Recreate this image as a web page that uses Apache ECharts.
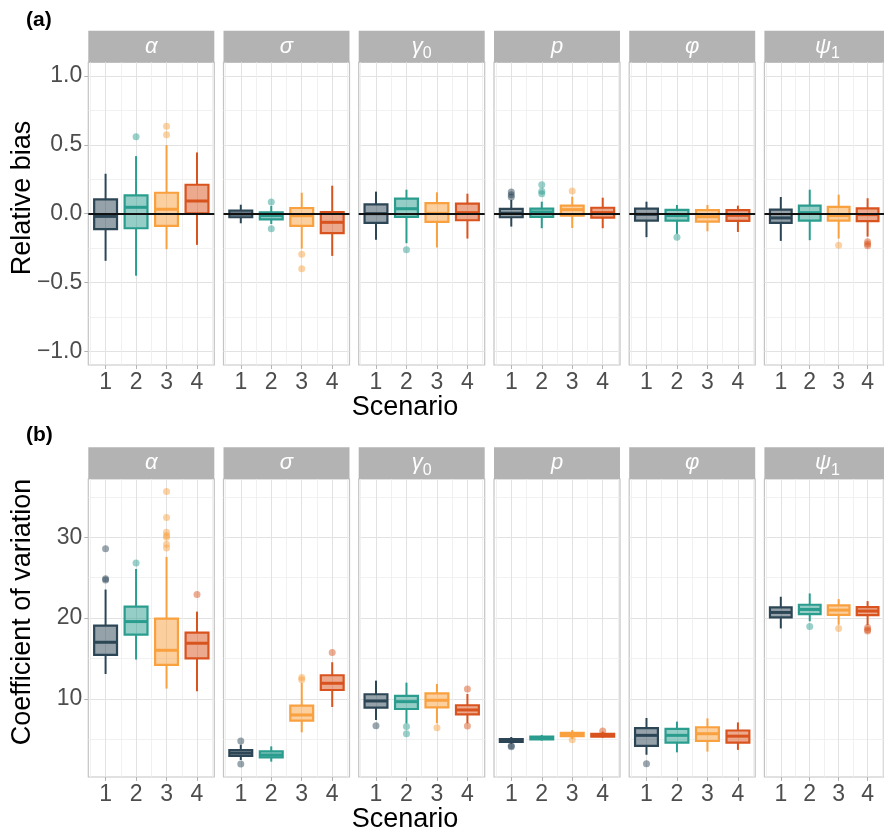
<!DOCTYPE html>
<html>
<head>
<meta charset="utf-8">
<script src="https://cdn.jsdelivr.net/npm/echarts@6/dist/echarts.min.js"></script>
<style>
  html, body {margin: 0; padding: 0; background: #fff;}
  #chart {width: 884px; height: 834px;}
</style>
</head>
<body>
<div id="chart"></div>
<script>
const scenarios = [1, 2, 3, 4]
const paramLabels = ['{g|α}', '{g|σ}', '{g|γ}{s|0}', '{g|p}', '{g|φ}', '{g|ψ}{s|1}']
const scenarioColors = ['#2c4656', '#2a9d8f', '#f9a03f', '#d9531e']

// (a) relative bias: [lower whisker, Q1, median, Q3, upper whisker] for scenario 1..4
const biasAlpha = [[-0.343, -0.113, -0.02, 0.104, 0.29], [-0.451, -0.106, 0.046, 0.133, 0.418], [-0.258, -0.089, 0.032, 0.152, 0.498], [-0.227, 0.003, 0.092, 0.21, 0.445]]
const biasSigma = [[-0.07, -0.026, -0.003, 0.022, 0.065], [-0.075, -0.041, -0.014, 0.01, 0.056], [-0.254, -0.089, -0.015, 0.041, 0.152], [-0.307, -0.142, -0.063, 0.012, 0.203]]
const biasGamma = [[-0.19, -0.067, 0.0, 0.068, 0.16], [-0.215, -0.024, 0.036, 0.109, 0.174], [-0.246, -0.06, 0.002, 0.077, 0.155], [-0.181, -0.048, 0.007, 0.073, 0.145]]
const biasP = [[-0.094, -0.026, 0.003, 0.034, 0.1], [-0.106, -0.024, 0.012, 0.036, 0.087], [-0.104, -0.014, 0.029, 0.058, 0.123], [-0.106, -0.029, 0.007, 0.043, 0.116]]
const biasPhi = [[-0.171, -0.051, -0.005, 0.036, 0.087], [-0.147, -0.051, -0.014, 0.027, 0.063], [-0.128, -0.058, -0.022, 0.025, 0.063], [-0.133, -0.053, -0.012, 0.025, 0.058]]
const biasPsi = [[-0.198, -0.067, -0.031, 0.029, 0.121], [-0.193, -0.051, 0.007, 0.058, 0.174], [-0.181, -0.051, -0.014, 0.049, 0.138], [-0.167, -0.055, -0.007, 0.039, 0.112]]

// (a) outliers per scenario
const biasAlphaOut = [[], [0.558], [0.573, 0.636], []]
const biasSigmaOut = [[], [0.085, -0.109], [-0.295, -0.4], []]
const biasGammaOut = [[], [-0.263], [], []]
const biasPOut = [[0.121, 0.138, 0.157], [0.145, 0.162, 0.21], [0.164], []]
const biasPhiOut = [[], [-0.171], [], []]
const biasPsiOut = [[], [], [-0.229], [-0.205, -0.22, -0.234]]

// (b) coefficient of variation
const cvAlpha = [[13.09, 15.44, 17.01, 19.07, 23.53], [14.87, 17.96, 19.57, 21.42, 26.08], [11.28, 14.21, 16.02, 19.94, 27.57], [10.95, 15.03, 16.89, 18.21, 20.8]]
const cvSigma = [[2.45, 2.95, 3.32, 3.69, 4.35], [2.25, 2.78, 3.07, 3.53, 4.14], [5.88, 7.32, 8.02, 9.18, 11.98], [9.01, 11.11, 11.94, 12.93, 14.54]]
const cvGamma = [[7.4, 8.93, 9.75, 10.58, 12.27], [6.99, 8.76, 9.67, 10.37, 12.02], [6.99, 8.97, 9.84, 10.7, 11.86], [6.99, 8.1, 8.64, 9.22, 10.62]]
const cvP = [[4.45, 4.7, 4.85, 5.05, 5.3], [4.85, 5.0, 5.15, 5.35, 5.55], [5.05, 5.4, 5.55, 5.8, 6.15], [5.2, 5.35, 5.5, 5.7, 5.95]]
const cvPhi = [[3.1, 4.2, 5.5, 6.4, 7.65], [3.4, 4.6, 5.5, 6.3, 7.2], [3.5, 4.8, 5.7, 6.5, 7.6], [3.7, 4.6, 5.4, 6.1, 7.1]]
const cvPsi = [[18.72, 20.08, 20.7, 21.32, 22.64], [19.6, 20.49, 21.07, 21.65, 23.05], [19.18, 20.41, 20.99, 21.57, 22.35], [19.13, 20.37, 20.87, 21.36, 22.1]]

const cvAlphaOut = [[24.7, 24.85, 28.56], [26.82], [28.68, 29.13, 30.0, 30.2, 30.62, 32.43, 35.65], [22.91]]
const cvSigmaOut = [[1.96, 4.8], [], [12.39, 12.64], [15.73]]
const cvGammaOut = [[6.7], [5.71, 6.58], [6.45], [6.66, 11.24]]
const cvPOut = [[4.1, 4.2], [], [4.95], [6.05]]
const cvPhiOut = [[2.0], [], [], []]
const cvPsiOut = [[], [18.97], [18.72], [18.4, 18.56, 18.85]]

const biasTicks = [-1, -0.5, 0, 0.5, 1]
const cvTicks = [10, 20, 30]

const FONT = "'Liberation Sans', Arial, Helvetica, sans-serif"
const panelLeft = [88.3, 223.5, 358.7, 494, 629.2, 764.4]
const panelWidth = 126

const rows = [
    {
        panels: [[biasAlpha, biasAlphaOut], [biasSigma, biasSigmaOut], [biasGamma, biasGammaOut],
            [biasP, biasPOut], [biasPhi, biasPhiOut], [biasPsi, biasPsiOut]],
        ticks: biasTicks, min: -1.1, max: 1.1, top: 62.3, height: 302.7, stripTop: 30.7,
        fmt: (v) => (v < 0 ? '\u2212' : '') + Math.abs(v).toFixed(1),
        hline: true,
    },
    {
        panels: [[cvAlpha, cvAlphaOut], [cvSigma, cvSigmaOut], [cvGamma, cvGammaOut],
            [cvP, cvPOut], [cvPhi, cvPhiOut], [cvPsi, cvPsiOut]],
        ticks: cvTicks, min: 0.35, max: 37.2, top: 479, height: 298, stripTop: 447.3,
        fmt: (v) => String(v),
        hline: false,
    },
]

const fade = (hex, a) => {
    const n = parseInt(hex.slice(1), 16)
    return `rgba(${(n >> 16) & 255},${(n >> 8) & 255},${n & 255},${a})`
}

const renderBox = (params, api) => {
    const x = api.value(0)
    const lo = api.coord([x, api.value(1)])
    const q1 = api.coord([x, api.value(2)])
    const med = api.coord([x, api.value(3)])
    const q3 = api.coord([x, api.value(4)])
    const hi = api.coord([x, api.value(5)])
    const w = api.size([0.75, 0])[0]
    const c = scenarioColors[api.value(6)]
    const line = {stroke: c, lineWidth: 2}
    return {
        type: 'group',
        children: [
            {type: 'line', shape: {x1: lo[0], y1: lo[1], x2: lo[0], y2: q1[1]}, style: line},
            {type: 'line', shape: {x1: hi[0], y1: q3[1], x2: hi[0], y2: hi[1]}, style: line},
            {
                type: 'rect',
                shape: {x: q3[0] - w / 2, y: q3[1], width: w, height: q1[1] - q3[1]},
                style: {fill: fade(c, 0.5), stroke: c, lineWidth: 2.2},
            },
            {
                type: 'line',
                shape: {x1: med[0] - w / 2, y1: med[1], x2: med[0] + w / 2, y2: med[1]},
                style: {stroke: c, lineWidth: 3},
            },
        ],
    }
}

const grids = []
const xAxes = []
const yAxes = []
const series = []
const graphics = []

rows.forEach((row, r) => {
    row.panels.forEach(([stats, outs], i) => {
        const gi = r * 6 + i
        grids.push({
            left: panelLeft[i], top: row.top, width: panelWidth, height: row.height,
            show: true, backgroundColor: '#fff', borderColor: '#c4c4c4', borderWidth: 1.2,
        })
        xAxes.push({
            gridIndex: gi, type: 'value', min: 0.433, max: 4.567, splitNumber: 4,
            axisLine: {show: false, onZero: false},
            axisTick: {show: true, customValues: scenarios, length: 4, lineStyle: {color: '#b3b3b3', width: 1}},
            axisLabel: {customValues: scenarios, fontSize: 23, color: '#4d4d4d', margin: 6, fontFamily: FONT},
            splitLine: {show: true, lineStyle: {color: '#e2e2e2', width: 1}},
            minorTick: {show: false, splitNumber: 2},
            minorSplitLine: {show: true, lineStyle: {color: '#eeeeee', width: 0.8}},
        })
        yAxes.push({
            gridIndex: gi, type: 'value', min: row.min, max: row.max,
            axisLine: {show: false, onZero: false},
            axisTick: {show: i === 0, customValues: row.ticks, length: 4, lineStyle: {color: '#b3b3b3', width: 1}},
            axisLabel: {
                show: i === 0, customValues: row.ticks, fontSize: 23, color: '#4d4d4d',
                margin: 6, fontFamily: FONT, formatter: row.fmt,
            },
            splitLine: {show: true, lineStyle: {color: '#e2e2e2', width: 1}},
            minorTick: {show: false, splitNumber: 2},
            minorSplitLine: {show: true, lineStyle: {color: '#eeeeee', width: 0.8}},
        })
        series.push({
            type: 'custom',
            xAxisIndex: gi, yAxisIndex: gi,
            renderItem: renderBox,
            encode: {x: 0, y: [1, 2, 3, 4, 5]},
            data: stats.map((s, k) => [scenarios[k], ...s, k]),
            z: 2,
        })
        const pts = []
        outs.forEach((arr, k) => arr.forEach((v) => pts.push([scenarios[k], v, k])))
        series.push({
            type: 'scatter',
            xAxisIndex: gi, yAxisIndex: gi,
            symbolSize: 7,
            itemStyle: {color: (p) => fade(scenarioColors[p.value[2]], 0.6)},
            data: pts,
            z: 3,
            markLine: row.hline ? {
                silent: true, symbol: 'none', label: {show: false},
                lineStyle: {color: '#111', width: 2, type: 'solid'},
                data: [{yAxis: 0}],
            } : undefined,
        })
        graphics.push({
            type: 'rect',
            shape: {x: panelLeft[i], y: row.stripTop, width: panelWidth, height: row.top - row.stripTop},
            style: {fill: '#b3b3b3'},
        })
        graphics.push({
            type: 'text',
            x: panelLeft[i] + panelWidth / 2,
            y: (row.stripTop + row.top) / 2,
            style: {
                text: paramLabels[i], align: 'center', verticalAlign: 'middle',
                rich: {
                    g: {fontSize: 22, fontStyle: 'italic', fontFamily: FONT, fill: '#fff', lineHeight: 22, verticalAlign: 'top'},
                    s: {fontSize: 16, fontFamily: FONT, fill: '#fff', lineHeight: 14, padding: [10, 0, 0, 0], verticalAlign: 'top'},
                },
            },
        })
    })
})

const addText = (text, x, y, opts) => {
    graphics.push({
        type: 'text', x, y, rotation: opts.rotation || 0,
        style: {
            text, fill: '#000', fontFamily: FONT, fontSize: opts.size,
            fontWeight: opts.bold ? 'bold' : 'normal',
            align: opts.align || 'center', verticalAlign: 'middle',
        },
    })
}
addText('(a)', 26, 20, {size: 21, bold: true, align: 'left'})
addText('(b)', 26, 435, {size: 21, bold: true, align: 'left'})
addText('Relative bias', 23, 198, {size: 27, rotation: Math.PI / 2})
addText('Coefficient of variation', 23, 612, {size: 27, rotation: Math.PI / 2})
addText('Scenario', 405, 408, {size: 27})
addText('Scenario', 405, 820, {size: 27})

const chart = echarts.init(document.getElementById('chart'))
chart.setOption({
    animation: false,
    backgroundColor: '#fff',
    grid: grids,
    xAxis: xAxes,
    yAxis: yAxes,
    series,
    graphic: graphics,
})
</script>
</body>
</html>
